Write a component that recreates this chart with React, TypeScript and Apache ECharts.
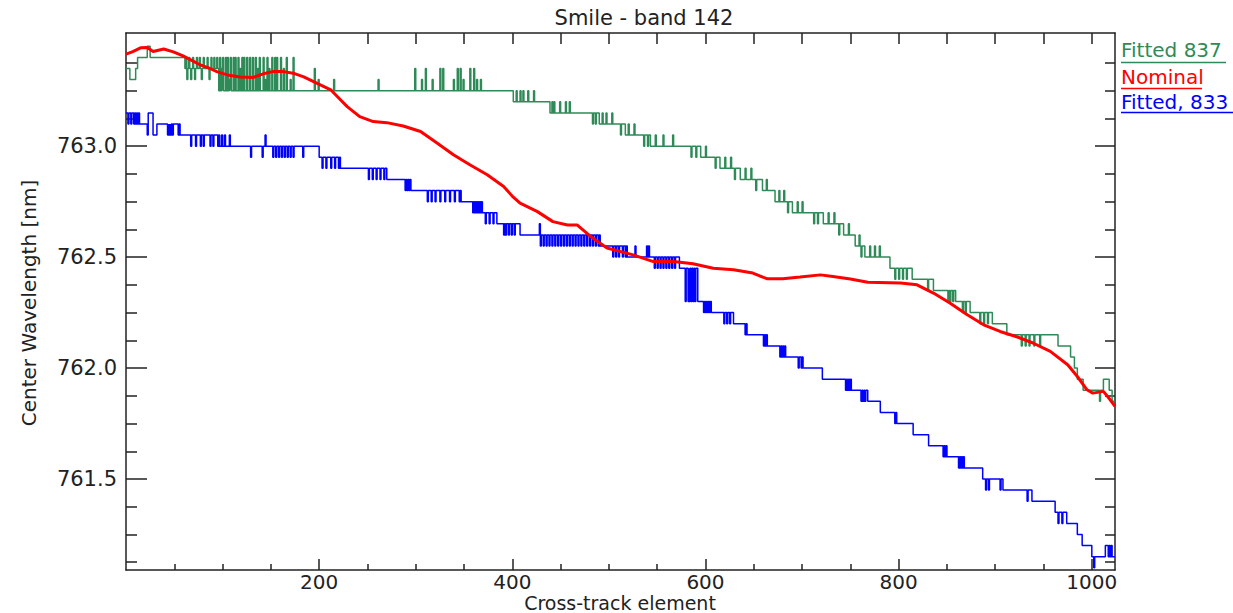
import React, { useEffect, useRef } from "react";
import * as echarts from "echarts";

const TITLE = "Smile - band 142";
const X_NAME = "Cross-track element";
const Y_NAME = "Center Wavelength [nm]";
const X_MIN = 0;
const X_MAX = 1024;
const Y_MIN = 761.09;
const Y_MAX = 763.51;
const xMajorTicks = [200, 400, 600, 800, 1000];
const xMinorTicks = [50, 100, 150, 250, 300, 350, 450, 500, 550, 650, 700, 750, 850, 900, 950];
const yMajorTicks = [761.5, 762.0, 762.5, 763.0];
const yMinorTicks = [761.125, 761.25, 761.375, 761.625, 761.75, 761.875, 762.125, 762.25, 762.375, 762.625, 762.75, 762.875, 763.125, 763.25, 763.375];
const legendNames = ["Fitted 837", "Nominal", "Fitted, 833"];

// Fitted 837: quantised step levels [x, level]
const fitted837Steps: [number, number][] = [
  [0, 763.35], [4, 763.3], [10, 763.35], [12, 763.4], [22, 763.45], [25, 763.4], [61, 763.35], [96, 763.25],
  [401, 763.2], [439, 763.15], [490, 763.1], [517, 763.05], [543, 763.0], [595, 762.95], [615, 762.9],
  [636, 762.85], [659, 762.8], [672, 762.75], [690, 762.7], [722, 762.65], [743, 762.6], [755, 762.55],
  [765, 762.5], [791, 762.45], [814, 762.4], [836, 762.35], [859, 762.3], [874, 762.25], [897, 762.2],
  [912, 762.15], [965, 762.1], [978, 762.05], [982, 762.0], [985, 761.95], [991, 761.9], [1012, 761.95],
  [1018, 761.9], [1021, 761.85], [1024, 761.85],
];
// Fitted 837: one-element flicker spikes [x, level]
const fitted837Spikes: [number, number][] = [
  [62, 763.4], [63, 763.3], [65, 763.4], [67, 763.3], [69, 763.4], [71, 763.3], [73, 763.4], [76, 763.4], [78, 763.3],
  [80, 763.4], [84, 763.4], [86, 763.3], [88, 763.4], [91, 763.4], [94, 763.4],
  [97, 763.4], [99, 763.35], [100, 763.4], [103, 763.4], [105, 763.4], [107, 763.3], [108, 763.4], [111, 763.4],
  [113, 763.4], [116, 763.4], [118, 763.35], [120, 763.4], [122, 763.4], [125, 763.4], [128, 763.4], [131, 763.4],
  [134, 763.4], [136, 763.35], [138, 763.4], [142, 763.4], [144, 763.3], [146, 763.4], [148, 763.35], [151, 763.4],
  [154, 763.4], [156, 763.4], [160, 763.4], [163, 763.35], [166, 763.4], [170, 763.3], [173, 763.4],
  [195, 763.35], [199, 763.3], [215, 763.3], [261, 763.3], [299, 763.35], [306, 763.3], [310, 763.35], [317, 763.3],
  [325, 763.35], [328, 763.35], [339, 763.3], [343, 763.35], [346, 763.35], [349, 763.3], [356, 763.35], [360, 763.35],
  [363, 763.3], [367, 763.3],
  [404, 763.25], [408, 763.25], [411, 763.25], [416, 763.25], [422, 763.25],
  [441, 763.2], [443, 763.2], [449, 763.2], [455, 763.2], [459, 763.2],
  [483, 763.1], [486, 763.1], [493, 763.15], [497, 763.15], [503, 763.15],
  [512, 763.05], [520, 763.1], [526, 763.1],
  [536, 763.0], [540, 763.0], [548, 763.05], [556, 763.05], [566, 763.05],
  [585, 762.95], [590, 762.95], [600, 763.0],
  [610, 762.9], [620, 762.95], [626, 762.95],
  [630, 762.85], [641, 762.9], [647, 762.9],
  [652, 762.8], [663, 762.85], [676, 762.8], [681, 762.8],
  [685, 762.7], [695, 762.75], [700, 762.75],
  [712, 762.65], [716, 762.65], [727, 762.7], [733, 762.7],
  [738, 762.6], [748, 762.65], [759, 762.6],
  [761, 762.5], [770, 762.55], [775, 762.55], [780, 762.55],
  [796, 762.4], [800, 762.4], [804, 762.4], [808, 762.4],
  [830, 762.35], [851, 762.3], [853, 762.3], [856, 762.3],
  [866, 762.25], [869, 762.25], [884, 762.2], [888, 762.2], [892, 762.2],
  [927, 762.1], [931, 762.1], [935, 762.1], [940, 762.1], [946, 762.1],
  [1008, 761.85],
];

// Fitted, 833: quantised step levels [x, level]
const fitted833Steps: [number, number][] = [
  [0, 763.15], [14, 763.1], [22, 763.05], [23, 763.15], [28, 763.05], [32, 763.1], [56, 763.05], [95, 763.0],
  [200, 762.95], [222, 762.9], [270, 762.85], [295, 762.8], [347, 762.75], [369, 762.7], [385, 762.65],
  [408, 762.6], [491, 762.55], [519, 762.5], [573, 762.45], [592, 762.3], [606, 762.25], [629, 762.2],
  [643, 762.15], [664, 762.1], [683, 762.05], [701, 762.0], [721, 761.95], [751, 761.9], [768, 761.85],
  [781, 761.8], [798, 761.75], [815, 761.7], [831, 761.65], [850, 761.6], [868, 761.55], [887, 761.5],
  [908, 761.45], [938, 761.4], [962, 761.35], [974, 761.3], [985, 761.25], [990, 761.2], [1000, 761.15],
  [1014, 761.2], [1021, 761.15], [1024, 761.15],
];
// Fitted, 833: one-element flicker spikes [x, level]
const fitted833Spikes: [number, number][] = [
  [2, 763.1], [5, 763.1], [8, 763.1], [10, 763.1], [12, 763.1],
  [43, 763.05], [44, 763.05], [45, 763.05], [46, 763.05], [48, 763.05], [54, 763.05],
  [67, 763.0], [72, 763.0], [77, 763.0], [80, 763.0], [87, 763.0], [90, 763.0],
  [96, 763.05], [99, 763.05], [102, 763.05], [107, 763.05],
  [129, 762.95], [141, 762.95], [144, 763.05], [152, 762.95], [155, 762.95], [158, 762.95], [161, 762.95],
  [164, 762.95], [167, 762.95], [170, 762.95], [173, 762.95], [183, 762.95],
  [203, 762.9], [207, 762.9], [212, 762.9], [216, 762.9], [220, 762.9],
  [251, 762.85], [255, 762.85], [259, 762.85], [263, 762.85], [267, 762.85],
  [289, 762.8], [291, 762.8], [293, 762.8],
  [312, 762.75], [316, 762.75], [320, 762.75], [325, 762.75], [330, 762.75], [335, 762.75], [340, 762.75], [345, 762.75],
  [359, 762.7], [361, 762.7], [363, 762.7], [365, 762.7], [367, 762.7],
  [372, 762.65], [376, 762.65], [380, 762.65], [384, 762.65],
  [391, 762.6], [393, 762.6], [396, 762.6], [399, 762.6], [402, 762.6],
  [428, 762.65], [429, 762.55], [432, 762.55], [435, 762.55], [438, 762.55], [441, 762.55], [444, 762.55],
  [447, 762.55], [450, 762.55], [453, 762.55], [456, 762.55], [459, 762.55], [462, 762.55], [465, 762.55],
  [468, 762.55], [471, 762.55], [474, 762.55], [477, 762.55], [480, 762.55], [483, 762.55], [486, 762.55], [489, 762.55],
  [504, 762.5], [507, 762.5], [510, 762.5], [514, 762.5], [517, 762.5],
  [527, 762.55], [539, 762.55], [541, 762.55],
  [547, 762.45], [550, 762.45], [553, 762.45], [556, 762.45], [559, 762.45], [562, 762.45], [565, 762.45], [568, 762.45],
  [579, 762.3], [582, 762.3], [583, 762.3], [585, 762.3], [587, 762.3], [589, 762.3],
  [598, 762.25], [600, 762.25], [602, 762.25], [604, 762.25],
  [619, 762.2], [622, 762.2], [625, 762.2], [641, 762.15], [660, 762.1], [662, 762.1],
  [677, 762.05], [679, 762.05], [681, 762.05], [696, 762.0], [699, 762.0],
  [745, 761.9], [747, 761.9], [749, 761.9], [761, 761.85], [763, 761.85], [765, 761.85],
  [796, 761.75], [846, 761.6], [848, 761.6], [862, 761.55], [864, 761.55], [866, 761.55],
  [890, 761.45], [893, 761.45], [905, 761.45], [933, 761.4], [965, 761.3], [969, 761.3],
  [1002, 761.1], [1017, 761.15], [1019, 761.15],
];

// Nominal centre wavelength [x, nm]
const nominal: [number, number][] = [
  [0, 763.415], [7, 763.426], [15, 763.443], [22, 763.445], [28, 763.427], [39, 763.438], [49, 763.425],
  [59, 763.407], [70, 763.382], [77, 763.366], [87, 763.35], [94, 763.336], [105, 763.321], [118, 763.312],
  [132, 763.31], [142, 763.326], [152, 763.336], [163, 763.336], [173, 763.329], [184, 763.312], [198, 763.283],
  [212, 763.254], [222, 763.209], [229, 763.178], [242, 763.133], [256, 763.111], [270, 763.106], [287, 763.091],
  [305, 763.066], [322, 763.014], [339, 762.961], [356, 762.916], [374, 762.871], [391, 762.818], [401, 762.77],
  [408, 762.743], [426, 762.705], [442, 762.66], [457, 762.645], [467, 762.645], [481, 762.593], [498, 762.541],
  [525, 762.51], [546, 762.48], [567, 762.48], [587, 762.47], [608, 762.45], [629, 762.443], [649, 762.428],
  [664, 762.402], [680, 762.402], [698, 762.41], [719, 762.42], [732, 762.413], [750, 762.401], [768, 762.387],
  [802, 762.383], [819, 762.375], [836, 762.338], [853, 762.293], [871, 762.24], [888, 762.195], [905, 762.165],
  [923, 762.14], [939, 762.113], [957, 762.075], [975, 762.015], [985, 761.962], [995, 761.902], [1001, 761.887],
  [1012, 761.895], [1019, 761.857], [1024, 761.827],
];

const GREEN = "#2e8b57";
const RED = "#ff0000";
const BLUE = "#0000ff";
const INK = "#222222";
const FONT = "DejaVu Sans";

function buildSteps(steps: [number, number][], spikes: [number, number][]): [number, number][] {
  const baseAt = (x: number) => {
    let b = steps[0][1];
    for (const [sx, sy] of steps) {
      if (sx <= x) b = sy;
      else break;
    }
    return b;
  };
  const pts: { x: number; y: number; k: number }[] = [];
  steps.forEach(([x, y]) => pts.push({ x, y, k: 1 }));
  spikes.forEach(([x, y]) => {
    pts.push({ x, y, k: 2 });
    pts.push({ x: x + 1, y: baseAt(x + 1), k: 0 });
  });
  pts.sort((a, b) => a.x - b.x || a.k - b.k);
  return pts.map((p) => [p.x, p.y] as [number, number]);
}

const axisLineStyle = { color: INK, width: 1.5 };

function xAxisDef(position: string, ticks: number[], len: number, labels: boolean, line: boolean) {
  return {
    type: "value",
    position,
    min: X_MIN,
    max: X_MAX,
    axisLine: { show: line, onZero: false, lineStyle: axisLineStyle },
    axisTick: { show: true, inside: true, length: len, customValues: ticks, lineStyle: axisLineStyle },
    axisLabel: labels
      ? {
          show: true,
          customValues: ticks,
          margin: 2,
          fontSize: 20,
          lineHeight: 20,
          fontFamily: FONT,
          color: INK,
          formatter: (v: number) => String(Math.round(v)),
        }
      : { show: false },
    splitLine: { show: false },
  };
}

function yAxisDef(position: string, ticks: number[], len: number, labels: boolean, line: boolean) {
  return {
    type: "value",
    position,
    min: Y_MIN,
    max: Y_MAX,
    axisLine: { show: line, onZero: false, lineStyle: axisLineStyle },
    axisTick: { show: true, inside: true, length: len, customValues: ticks, lineStyle: axisLineStyle },
    axisLabel: labels
      ? {
          show: true,
          customValues: ticks,
          margin: 9,
          fontSize: 21,
          fontFamily: FONT,
          color: INK,
          formatter: (v: number) => v.toFixed(1),
        }
      : { show: false },
    splitLine: { show: false },
  };
}

function textEl(text: string, x: number, y: number, size: number, fill: string, align: string, extra: any = {}) {
  return {
    type: "text",
    x,
    y,
    ...extra,
    style: {
      text,
      fontSize: size,
      lineHeight: size,
      fontFamily: FONT,
      fill,
      align,
      verticalAlign: "middle",
      textAlign: align,
      textVerticalAlign: "middle",
    },
  };
}

function lineEl(x1: number, x2: number, y: number, stroke: string) {
  return { type: "line", shape: { x1, y1: y, x2, y2: y }, style: { stroke, lineWidth: 1.5 } };
}

export default function App() {
  const ref = useRef<HTMLDivElement>(null);
  useEffect(() => {
    if (!ref.current) return;
    const chart = echarts.init(ref.current, null, { renderer: "svg" });
    const allX = [...xMajorTicks, ...xMinorTicks].sort((a, b) => a - b);
    const option: any = {
      animation: false,
      backgroundColor: "#ffffff",
      grid: { left: 126, right: 118, top: 33, bottom: 43, containLabel: false },
      xAxis: [
        xAxisDef("bottom", xMajorTicks, 11, true, true),
        xAxisDef("bottom", xMinorTicks, 6, false, false),
        xAxisDef("top", allX, 11, false, true),
      ],
      yAxis: [
        yAxisDef("left", yMajorTicks, 21, true, true),
        yAxisDef("left", yMinorTicks, 11, false, false),
        yAxisDef("right", yMajorTicks, 20, false, true),
        yAxisDef("right", yMinorTicks, 10, false, false),
      ],
      series: [
        {
          name: legendNames[0],
          type: "line",
          step: "end",
          symbol: "none",
          data: buildSteps(fitted837Steps, fitted837Spikes),
          lineStyle: { color: GREEN, width: 1.5 },
          z: 2,
        },
        {
          name: legendNames[2],
          type: "line",
          step: "end",
          symbol: "none",
          data: buildSteps(fitted833Steps, fitted833Spikes),
          lineStyle: { color: BLUE, width: 1.5 },
          z: 3,
        },
        {
          name: legendNames[1],
          type: "line",
          symbol: "none",
          data: nominal,
          lineStyle: { color: RED, width: 3 },
          z: 4,
        },
      ],
      graphic: [
        textEl(TITLE, 644, 18, 21, INK, "center"),
        textEl(X_NAME, 620, 603, 19, INK, "center"),
        textEl(Y_NAME, 29, 303, 20, INK, "center", { rotation: Math.PI / 2 }),
        textEl(legendNames[0], 1121, 50, 20, GREEN, "left"),
        lineEl(1121, 1226, 62.5, GREEN),
        textEl(legendNames[1], 1121, 77, 20, RED, "left"),
        lineEl(1121, 1202, 88.5, RED),
        textEl(legendNames[2], 1121, 102, 20, BLUE, "left"),
        lineEl(1121, 1233, 112.5, BLUE),
      ],
    };
    chart.setOption(option);
    return () => chart.dispose();
  }, []);
  return (
    <div
      ref={ref}
      style={{ position: "absolute", left: 0, top: 0, width: 1233, height: 613, background: "#ffffff" }}
    />
  );
}
